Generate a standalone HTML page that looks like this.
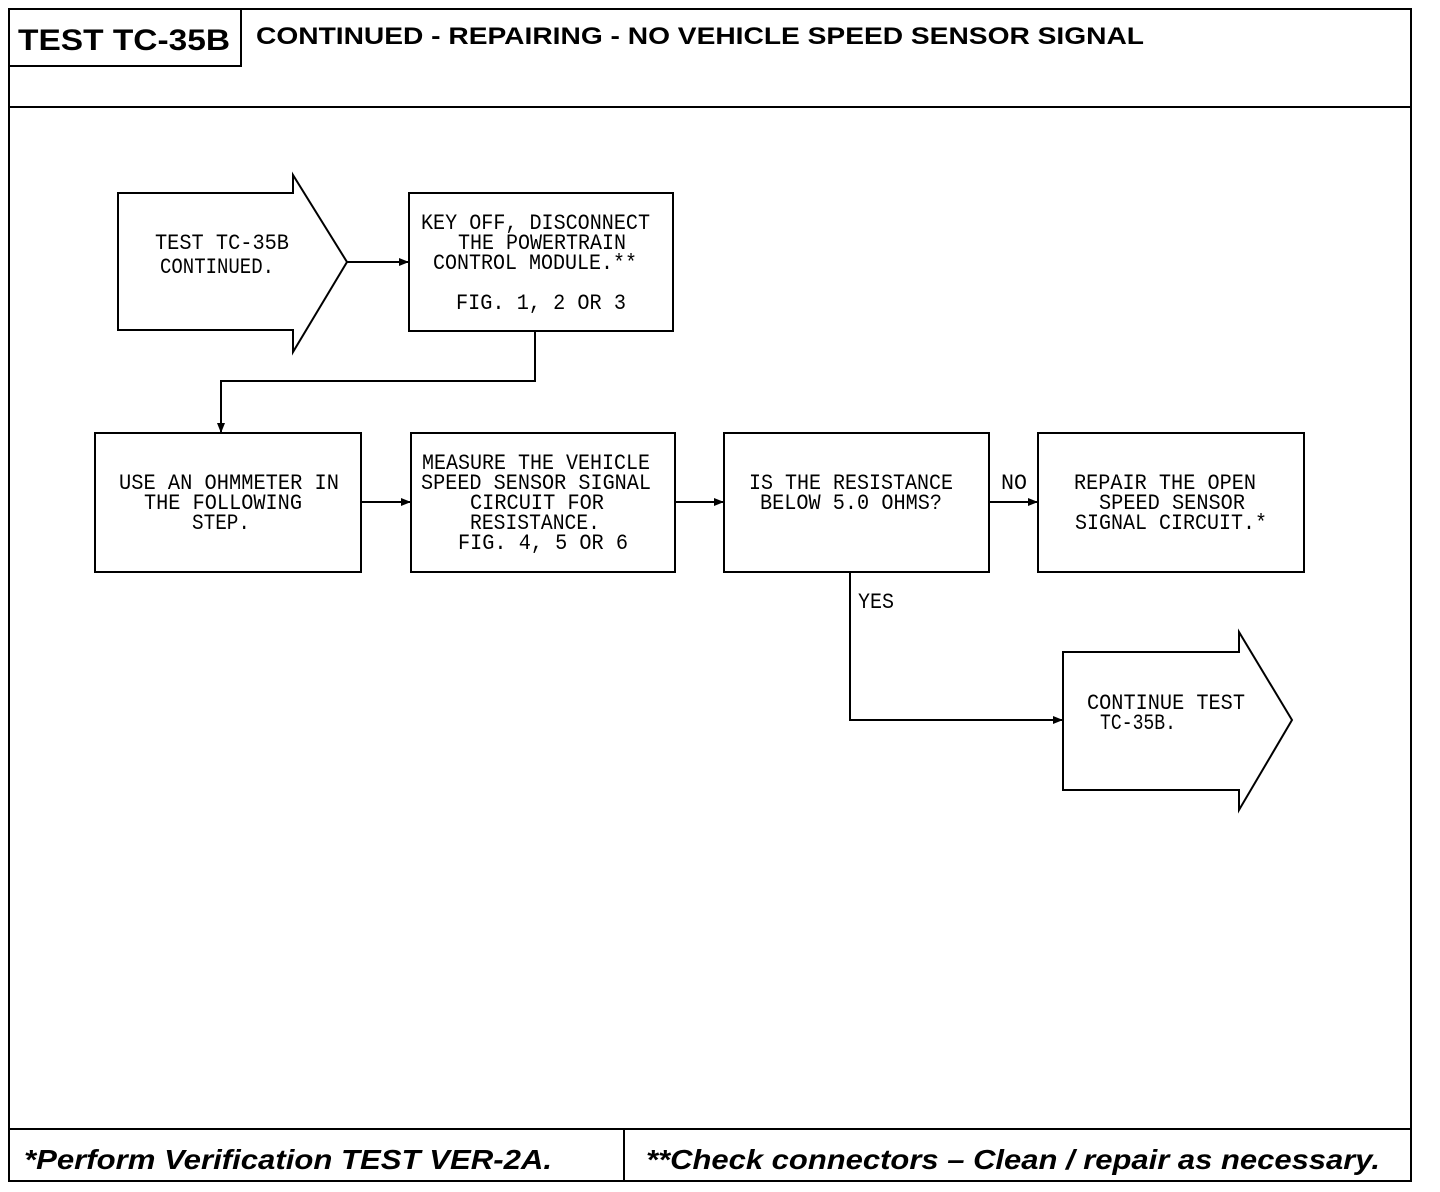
<!DOCTYPE html>
<html><head><meta charset="utf-8"><style>
html,body{margin:0;padding:0;background:#fff;}
svg{display:block;}
.t{font-family:"Liberation Mono",monospace;font-size:22px;fill:#000;}
.h{font-family:"Liberation Sans",sans-serif;font-weight:bold;fill:#000;}
</style></head><body>
<svg width="1440" height="1192" viewBox="0 0 1440 1192" xmlns="http://www.w3.org/2000/svg">
<defs><marker id="a" markerWidth="10" markerHeight="8" refX="9" refY="4" orient="auto" markerUnits="userSpaceOnUse"><path d="M0,0 L10,4 L0,8 z" fill="#000"/></marker></defs>
<g fill="none" stroke="#000" stroke-width="2">
<rect x="9" y="9" width="1402" height="1172"/>
<line x1="9" y1="107" x2="1411" y2="107"/>
<polyline points="9,66 241,66 241,9"/>
<line x1="9" y1="1129" x2="1411" y2="1129"/>
<line x1="624" y1="1129" x2="624" y2="1181"/>
<polygon points="118,193 293,193 293,175 347,262 293,352 293,330 118,330"/>
<rect x="409" y="193" width="264" height="138"/>
<rect x="95" y="433" width="266" height="139"/>
<rect x="411" y="433" width="264" height="139"/>
<rect x="724" y="433" width="265" height="139"/>
<rect x="1038" y="433" width="266" height="139"/>
<polygon points="1063,652 1239,652 1239,632 1292,720 1239,810 1239,790 1063,790"/>
<line x1="347" y1="262" x2="408" y2="262" marker-end="url(#a)"/>
<polyline points="535,331 535,381 221,381 221,432" marker-end="url(#a)"/>
<line x1="361" y1="502" x2="410" y2="502" marker-end="url(#a)"/>
<line x1="675" y1="502" x2="723" y2="502" marker-end="url(#a)"/>
<line x1="989" y1="502" x2="1037" y2="502" marker-end="url(#a)"/>
<polyline points="850,572 850,720 1062,720" marker-end="url(#a)"/>
</g>
<text class="h" x="18" y="50" font-size="30" textLength="212" lengthAdjust="spacingAndGlyphs">TEST TC-35B</text>
<text class="h" x="256" y="44" font-size="24" textLength="888" lengthAdjust="spacingAndGlyphs">CONTINUED - REPAIRING - NO VEHICLE SPEED SENSOR SIGNAL</text>
<text class="h" x="24" y="1169" font-size="28" font-style="italic" textLength="528" lengthAdjust="spacingAndGlyphs">*Perform  Verification  TEST VER-2A.</text>
<text class="h" x="646" y="1169" font-size="28" font-style="italic" textLength="734" lengthAdjust="spacingAndGlyphs">**Check connectors – Clean / repair as necessary.</text>
<g class="t">
<text x="155" y="249" textLength="134" lengthAdjust="spacingAndGlyphs">TEST TC-35B</text>
<text x="160" y="273" textLength="114" lengthAdjust="spacingAndGlyphs">CONTINUED.</text>
<text x="421" y="229" textLength="229" lengthAdjust="spacingAndGlyphs">KEY OFF, DISCONNECT</text>
<text x="458" y="249" textLength="168" lengthAdjust="spacingAndGlyphs">THE POWERTRAIN</text>
<text x="433" y="269" textLength="204" lengthAdjust="spacingAndGlyphs">CONTROL MODULE.**</text>
<text x="456" y="309" textLength="170" lengthAdjust="spacingAndGlyphs">FIG. 1, 2 OR 3</text>
<text x="119" y="489" textLength="220" lengthAdjust="spacingAndGlyphs">USE AN OHMMETER IN</text>
<text x="144" y="509" textLength="158" lengthAdjust="spacingAndGlyphs">THE FOLLOWING</text>
<text x="192" y="529" textLength="58" lengthAdjust="spacingAndGlyphs">STEP.</text>
<text x="422" y="469" textLength="228" lengthAdjust="spacingAndGlyphs">MEASURE THE VEHICLE</text>
<text x="421" y="489" textLength="230" lengthAdjust="spacingAndGlyphs">SPEED SENSOR SIGNAL</text>
<text x="470" y="509" textLength="134" lengthAdjust="spacingAndGlyphs">CIRCUIT FOR</text>
<text x="470" y="529" textLength="130" lengthAdjust="spacingAndGlyphs">RESISTANCE.</text>
<text x="458" y="549" textLength="170" lengthAdjust="spacingAndGlyphs">FIG. 4, 5 OR 6</text>
<text x="749" y="489" textLength="204" lengthAdjust="spacingAndGlyphs">IS THE RESISTANCE</text>
<text x="760" y="509" textLength="182" lengthAdjust="spacingAndGlyphs">BELOW 5.0 OHMS?</text>
<text x="1001" y="489" textLength="26" lengthAdjust="spacingAndGlyphs">NO</text>
<text x="858" y="608" textLength="36" lengthAdjust="spacingAndGlyphs">YES</text>
<text x="1074" y="489" textLength="182" lengthAdjust="spacingAndGlyphs">REPAIR THE OPEN</text>
<text x="1099" y="509" textLength="146" lengthAdjust="spacingAndGlyphs">SPEED SENSOR</text>
<text x="1075" y="529" textLength="192" lengthAdjust="spacingAndGlyphs">SIGNAL CIRCUIT.*</text>
<text x="1087" y="709" textLength="158" lengthAdjust="spacingAndGlyphs">CONTINUE TEST</text>
<text x="1100" y="729" textLength="76" lengthAdjust="spacingAndGlyphs">TC-35B.</text>
</g>
</svg>
</body></html>
